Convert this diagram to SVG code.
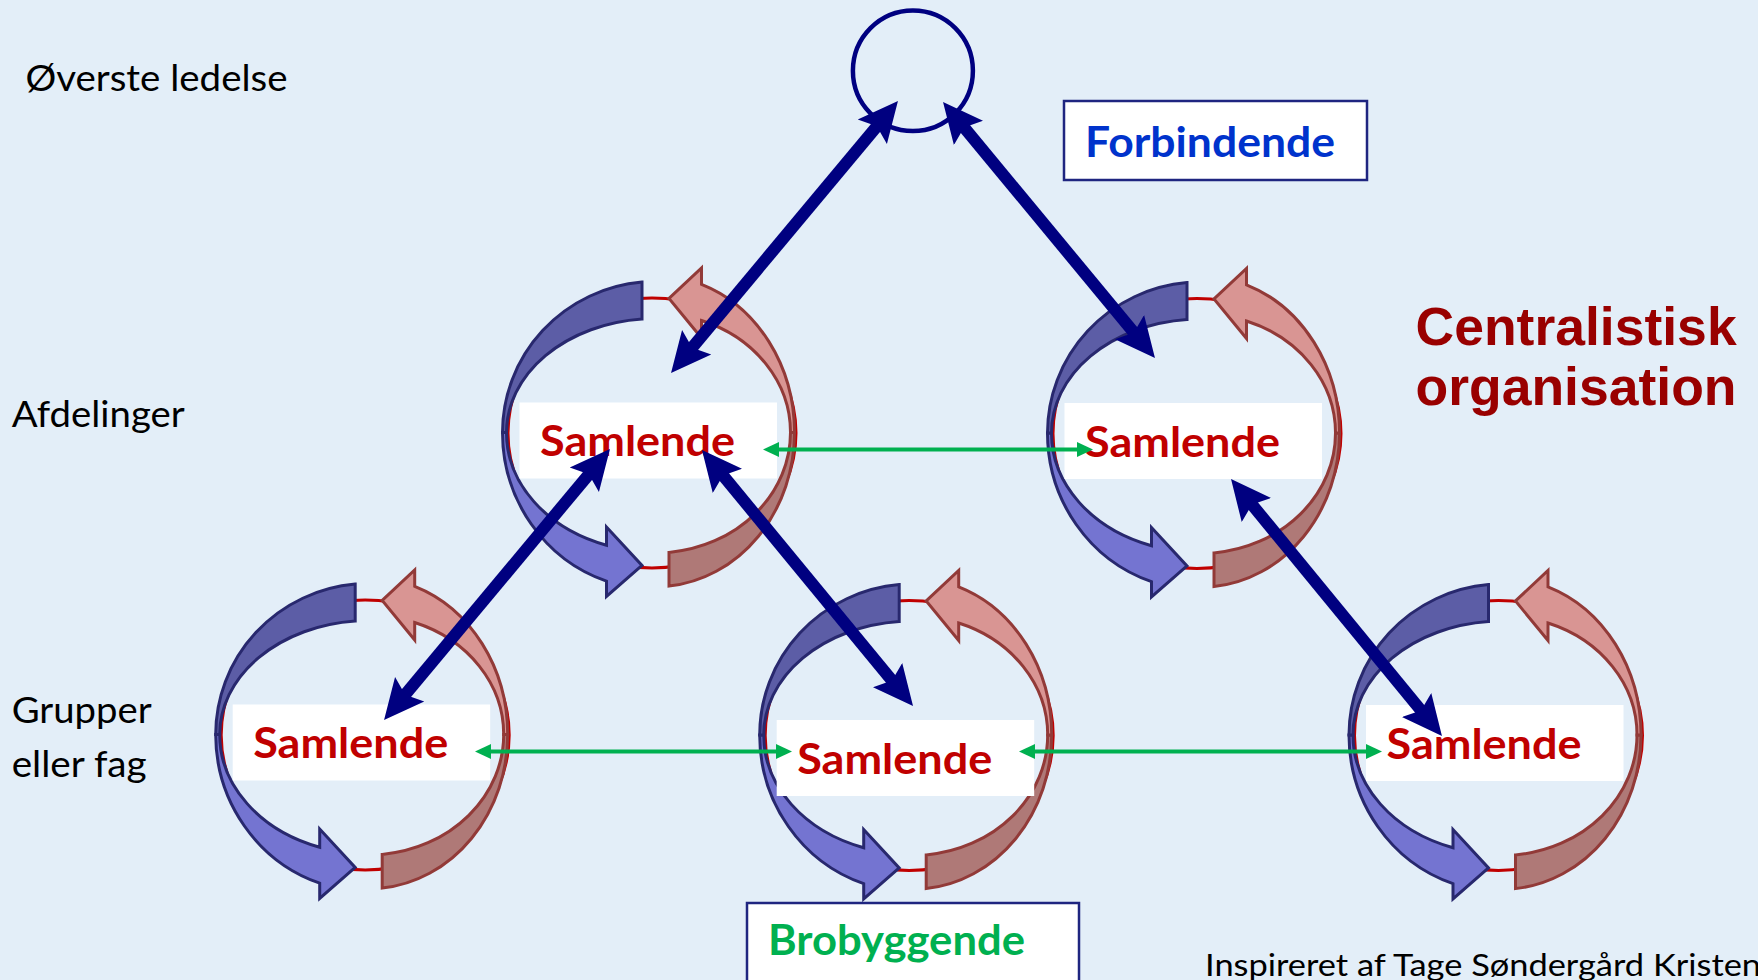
<svg xmlns="http://www.w3.org/2000/svg" xmlns:xlink="http://www.w3.org/1999/xlink" width="1758" height="980" viewBox="0 0 1758 980">
  <style>
    .ring { fill: none; stroke: #C00000; stroke-width: 3; }
    .blue-back { fill: #5C5DA6; stroke: #28286E; stroke-width: 3; stroke-linejoin: miter; }
    .blue-front { fill: #7474D1; stroke: #28286E; stroke-width: 3; stroke-linejoin: miter; }
    .red-front { fill: #D99593; stroke: #923A38; stroke-width: 3; stroke-linejoin: miter; }
    .red-back { fill: #AF7977; stroke: #923A38; stroke-width: 3; stroke-linejoin: miter; }
    .label-box { fill: #FFFFFF; }
    .samlende { font-family: Lato, "Liberation Sans", sans-serif; font-weight: bold; font-size: 42px; fill: #C00000; }
    .level { font-family: Lato, "Liberation Sans", sans-serif; font-size: 37px; fill: #000000; }
    .title { font-family: "Liberation Sans", Arial, sans-serif; font-weight: bold; font-size: 53.5px; fill: #990000; }
    .role-box { fill: #FFFFFF; stroke: #1F2580; stroke-width: 2.5; }
    .role { font-family: Lato, "Liberation Sans", sans-serif; font-weight: bold; font-size: 42px; }
    .navy { stroke: #000080; stroke-width: 12; fill: none; marker-start: url(#navyHead); marker-end: url(#navyHead); }
    .green { stroke: #00B050; stroke-width: 4; fill: none; marker-start: url(#greenHead); marker-end: url(#greenHead); }
  </style>
  <defs>
    <marker id="navyHead" viewBox="0 0 40 40" markerWidth="40" markerHeight="40" refX="9" refY="20" orient="auto-start-reverse" markerUnits="userSpaceOnUse">
      <path d="M0,1 L40,20 L0,39 L7,20 Z" fill="#000080"/>
    </marker>
    <marker id="greenHead" viewBox="0 0 16 16" markerWidth="16" markerHeight="16" refX="2" refY="8" orient="auto-start-reverse" markerUnits="userSpaceOnUse">
      <path d="M0,0.5 L16,8 L0,15.5 Z" fill="#00B050"/>
    </marker>
    <!-- pair of curved arrows chasing each other round a thin ring -->
    <g id="cycle">
      <ellipse class="ring" cx="-3.5" cy="0.5" rx="144" ry="135"/>
      <path class="blue-front" d="M -153,0 A 153 157 0 0 0 -49,148.7 L -49,164 L -13.5,133 L -49,94.5 L -49,112.7 A 149 119 0 0 1 -149,0 Z"/>
      <path class="blue-back" d="M -13.5,-150.4 A 153 151 0 0 0 -153,0 L -149,0 A 149 114 0 0 1 -13.5,-113.5 Z"/>
      <path class="red-back" d="M 13.5,153.6 A 139 154.3 0 0 0 139,0 L 135,0 A 135 120.5 0 0 1 13.5,119.9 Z"/>
      <path class="red-front" d="M 139,0 A 139 157 0 0 0 46,-148.2 L 46,-164.5 L 13.5,-134 L 46,-94.5 L 46,-112 A 135 119 0 0 1 135,0 Z"/>
    </g>
  </defs>

  <rect x="0" y="0" width="1758" height="980" fill="#E3EEF8"/>

  <!-- level labels -->
  <g id="levels">
    <text class="level" x="25.5" y="91" textLength="262" lengthAdjust="spacingAndGlyphs">Øverste ledelse</text>
    <text class="level" x="11.7" y="426.7" textLength="173" lengthAdjust="spacingAndGlyphs">Afdelinger</text>
    <text class="level" x="11.7" y="723.3" textLength="140" lengthAdjust="spacingAndGlyphs">Grupper</text>
    <text class="level" x="11.7" y="776.7" textLength="135" lengthAdjust="spacingAndGlyphs">eller fag</text>
  </g>

  <g id="title">
    <text class="title" x="1415.5" y="344.5">Centralistisk</text>
    <text class="title" x="1415.5" y="405">organisation</text>
  </g>

  <text x="1205" y="975.5" font-family="Lato, 'Liberation Sans', sans-serif" font-size="31" fill="#000000" textLength="556" lengthAdjust="spacingAndGlyphs">Inspireret af Tage Søndergård Kristen</text>

  <!-- top management -->
  <g id="top-management">
    <ellipse cx="912.9" cy="70.8" rx="60" ry="60.3" fill="none" stroke="#000080" stroke-width="4.5"/>
  </g>

  <!-- departments -->
  <g id="cycle-a" transform="translate(655.5,432.5)">
    <use xlink:href="#cycle" href="#cycle"/>
    <rect class="label-box" x="-136" y="-30" width="257.5" height="76"/>
    <text class="samlende" x="-115.5" y="23.5" textLength="195" lengthAdjust="spacingAndGlyphs">Samlende</text>
  </g>
  <g id="cycle-b" transform="translate(1200.5,433)">
    <use xlink:href="#cycle" href="#cycle"/>
    <rect class="label-box" x="-136" y="-30" width="257.5" height="76"/>
    <text class="samlende" x="-115.5" y="23.5" textLength="195" lengthAdjust="spacingAndGlyphs">Samlende</text>
  </g>

  <!-- groups -->
  <g id="cycle-c" transform="translate(368.7,734.5)">
    <use xlink:href="#cycle" href="#cycle"/>
    <rect class="label-box" x="-136" y="-30" width="257.5" height="76"/>
    <text class="samlende" x="-115.5" y="23.5" textLength="195" lengthAdjust="spacingAndGlyphs">Samlende</text>
  </g>
  <g id="cycle-d" transform="translate(912.7,735)">
    <use xlink:href="#cycle" href="#cycle"/>
    <rect class="label-box" x="-136" y="-15" width="257.5" height="76"/>
    <text class="samlende" x="-115.5" y="38.5" textLength="195" lengthAdjust="spacingAndGlyphs">Samlende</text>
  </g>
  <g id="cycle-e" transform="translate(1502,735)">
    <use xlink:href="#cycle" href="#cycle"/>
    <rect class="label-box" x="-136" y="-30" width="257.5" height="76"/>
    <text class="samlende" x="-115.5" y="23.5" textLength="195" lengthAdjust="spacingAndGlyphs">Samlende</text>
  </g>

  <!-- connectors -->
  <g id="connectors">
    <line class="green" x1="777" y1="449.5" x2="1079" y2="449.5"/>
    <line class="green" x1="489" y1="751.5" x2="778" y2="751.5"/>
    <line class="green" x1="1033" y1="751.5" x2="1368" y2="751.5"/>

    <line class="navy" x1="690.9" y1="349.2" x2="878.1" y2="124.8"/>
    <line class="navy" x1="962.8" y1="125.9" x2="1135.2" y2="334.1"/>
    <line class="navy" x1="403.9" y1="696.2" x2="590.1" y2="472.8"/>
    <line class="navy" x1="721.7" y1="473.9" x2="893.3" y2="682.1"/>
    <line class="navy" x1="1250.7" y1="503" x2="1422.3" y2="712"/>
  </g>

  <!-- role captions -->
  <g id="forbindende">
    <rect class="role-box" x="1064" y="101" width="303" height="79"/>
    <text class="role" x="1085" y="156.5" fill="#0033CC" textLength="250" lengthAdjust="spacingAndGlyphs">Forbindende</text>
  </g>
  <g id="brobyggende">
    <rect class="role-box" x="747" y="903" width="332" height="90"/>
    <text class="role" x="768" y="954.5" fill="#00B050" textLength="257" lengthAdjust="spacingAndGlyphs">Brobyggende</text>
  </g>
</svg>
